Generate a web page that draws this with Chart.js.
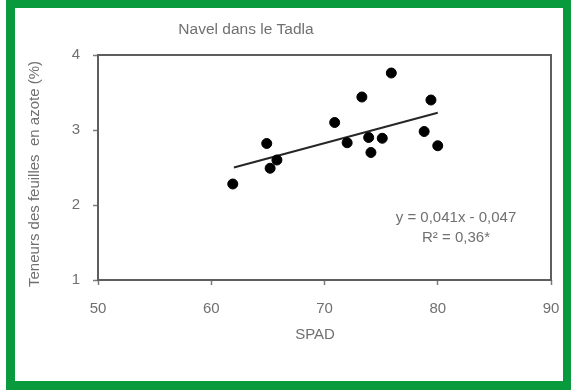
<!DOCTYPE html>
<html>
<head>
<meta charset="utf-8">
<script src="https://cdn.jsdelivr.net/npm/chart.js@4.4.1/dist/chart.umd.min.js"></script>
<style>
  html, body { margin: 0; padding: 0; background: #ffffff; width: 571px; height: 390px; overflow: hidden; }
  #frame {
    position: absolute; left: 6px; top: 0px;
    width: 548px; height: 373px;
    border-style: solid; border-color: #0a9a3e;
    border-width: 8px 8px 9px 9px;
    background: #ffffff;
  }
  #c { display: block; }
</style>
</head>
<body>
<div id="frame"><canvas id="c" width="548" height="373"></canvas></div>
<script>
// ---- data ----
const spadValues = [61.9, 64.9, 65.2, 65.8, 70.9, 72.0, 73.3, 73.9, 74.1, 75.1, 75.9, 78.8, 79.4, 80.0];
const nitrogenValues = [2.28, 2.82, 2.49, 2.60, 3.10, 2.83, 3.44, 2.90, 2.70, 2.89, 3.76, 2.98, 3.40, 2.79];
const trendX = [62, 80];
const trendY = [2.50, 3.23];
const xTicks = [50, 60, 70, 80, 90];
const yTicks = [1, 2, 3, 4];
const titleText = "Navel dans le Tadla";
const xTitle = "SPAD";
const yTitle = "Teneurs des feuilles  en azote (%)";
const eqLine1 = "y = 0,041x - 0,047";
const eqLine2 = "R\u00B2 = 0,36*";

const points = spadValues.map((x, i) => ({ x: x, y: nitrogenValues[i] }));
const trend = trendX.map((x, i) => ({ x: x, y: trendY[i] }));

const FONT = "'Liberation Sans', Arial, sans-serif";
const TEXT = '#707070';

const textPlugin = {
  id: 'texts',
  beforeDatasetsDraw(chart) {
    const a = chart.chartArea, ctx = chart.ctx;
    ctx.save();
    ctx.strokeStyle = '#5e5e5e';
    ctx.lineWidth = 2;
    ctx.strokeRect(a.left, a.top, a.right - a.left, a.bottom - a.top);
    ctx.restore();
  },
  afterDraw(chart) {
    const ctx = chart.ctx;
    ctx.save();
    ctx.fillStyle = TEXT;
    ctx.textAlign = 'center';
    ctx.textBaseline = 'middle';
    ctx.font = '15.5px ' + FONT;
    ctx.fillText(titleText, 231, 22);
    ctx.font = '15px ' + FONT;
    ctx.fillText(xTitle, 300, 327);
    ctx.fillText(eqLine1, 441, 210);
    ctx.fillText(eqLine2, 441, 230);
    ctx.translate(20, 166);
    ctx.rotate(-Math.PI / 2);
    ctx.fillText(yTitle, 0, 0);
    ctx.restore();
  }
};

new Chart(document.getElementById('c'), {
  type: 'scatter',
  data: {
    datasets: [
      {
        label: 'points',
        data: points,
        backgroundColor: '#000000',
        borderColor: '#000000',
        pointRadius: 5,
        pointHoverRadius: 5,
        order: 0
      },
      {
        label: 'trend',
        type: 'line',
        data: trend,
        borderColor: '#262626',
        borderWidth: 2,
        pointRadius: 0,
        showLine: true,
        fill: false,
        order: 1
      }
    ]
  },
  options: {
    responsive: false,
    animation: false,
    events: [],
    layout: { padding: { top: 47, right: 0, left: 0, bottom: 0 } },
    plugins: { legend: { display: false }, tooltip: { enabled: false }, title: { display: false } },
    scales: {
      x: {
        type: 'linear', min: 50, max: 90,
        afterBuildTicks: (s) => { s.ticks = xTicks.map(v => ({ value: v })); },
        afterFit: (s) => { s.height = 101; s.paddingRight = 12; s.paddingLeft = 0; },
        grid: { drawOnChartArea: false, drawTicks: true, tickLength: 5, color: '#7a7a7a', tickWidth: 1.5 },
        border: { display: false },
        ticks: { color: TEXT, font: { size: 15, family: FONT }, padding: 15 }
      },
      y: {
        type: 'linear', min: 1, max: 4,
        afterBuildTicks: (s) => { s.ticks = yTicks.map(v => ({ value: v })); },
        afterFit: (s) => { s.width = 83; },
        grid: { drawOnChartArea: false, drawTicks: true, tickLength: 5, color: '#7a7a7a', tickWidth: 1.5 },
        border: { display: false },
        ticks: { color: TEXT, font: { size: 15, family: FONT }, padding: 13 }
      }
    }
  },
  plugins: [textPlugin]
});
</script>
</body>
</html>
